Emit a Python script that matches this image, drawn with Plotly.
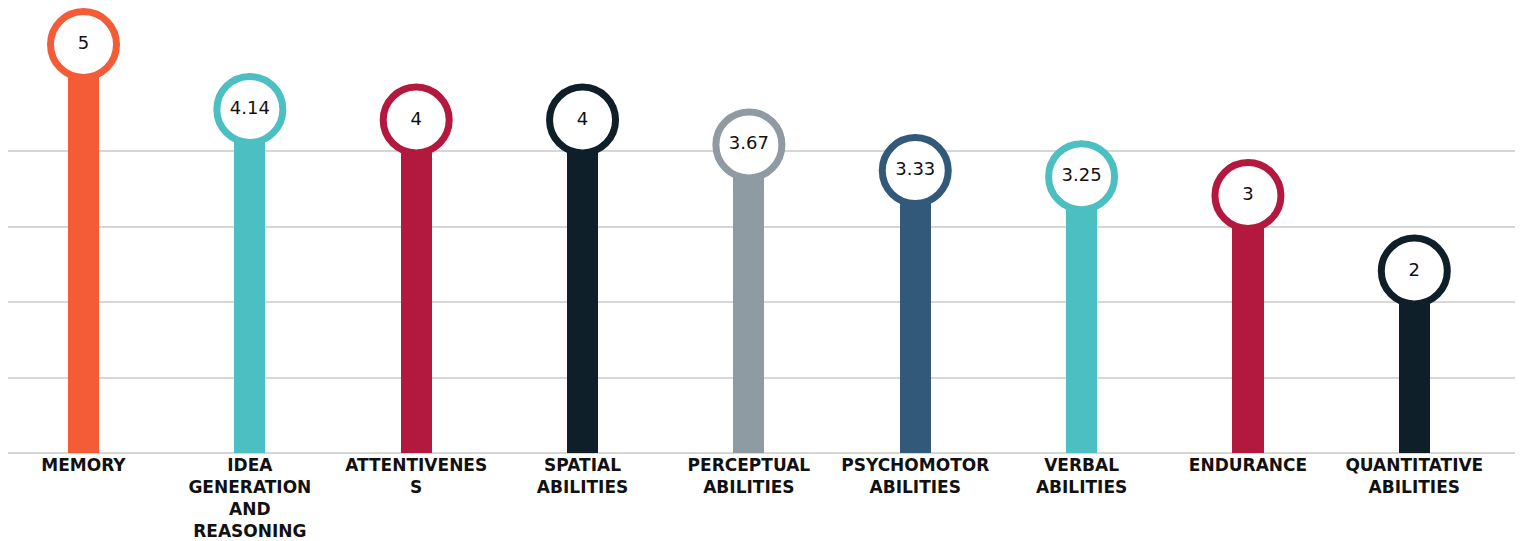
import plotly.graph_objects as go

categories = ["MEMORY", "IDEA<br>GENERATION<br>AND<br>REASONING", "ATTENTIVENES<br>S",
              "SPATIAL<br>ABILITIES", "PERCEPTUAL<br>ABILITIES", "PSYCHOMOTOR<br>ABILITIES",
              "VERBAL<br>ABILITIES", "ENDURANCE", "QUANTITATIVE<br>ABILITIES"]
values = [5, 4.14, 4, 4, 3.67, 3.33, 3.25, 3, 2]
value_labels = ["5", "4.14", "4", "4", "3.67", "3.33", "3.25", "3", "2"]
colors = ["#F35C37", "#4BBFC1", "#B3183F", "#0F1F2A", "#8E9BA2", "#33597A",
          "#4BBFC1", "#B3183F", "#0F1F2A"]

# figure geometry (page body adds an 8px margin)
W, H = 1515, 533
m_l, m_r, m_t, m_b = 0, 3, 0, 88
px_per_unit = 75.5
y_max = (H - m_t - m_b) / px_per_unit
circle_offset = 31 / px_per_unit  # circle sits above the bar end

x_idx = list(range(len(categories)))

fig = go.Figure()
fig.add_trace(go.Bar(
    x=x_idx, y=values, width=0.187,
    marker=dict(color=colors, line=dict(width=0)),
    hoverinfo="skip", showlegend=False,
))
fig.add_trace(go.Scatter(
    x=x_idx, y=[v + circle_offset for v in values],
    mode="markers+text",
    text=value_labels, textposition="middle center",
    textfont=dict(family="DejaVu Sans", size=18, color="#111111"),
    marker=dict(size=66, color="white", line=dict(color=colors, width=7)),
    cliponaxis=False, showlegend=False,
))

spacing = 166.35
plot_w = W - m_l - m_r
left_px = 83.5 - 8 - m_l
x0 = -left_px / spacing
x1 = x0 + plot_w / spacing

fig.update_layout(
    width=W, height=H,
    margin=dict(l=m_l, r=m_r, t=m_t, b=m_b),
    paper_bgcolor="white", plot_bgcolor="white",
    bargap=0,
    xaxis=dict(
        range=[x0, x1], automargin=False,
        tickmode="array", tickvals=x_idx, ticktext=categories,
        tickangle=0, showgrid=False, zeroline=False, showline=False,
        ticks="", ticklen=0,
        tickfont=dict(family="DejaVu Sans", size=17, color="#111111", weight="bold"),
    ),
    yaxis=dict(
        range=[0, y_max], automargin=False,
        tickmode="array", tickvals=[0, 1, 2, 3, 4],
        showticklabels=False, showgrid=True, gridcolor="#D6D6D6", gridwidth=1.5,
        zeroline=True, zerolinecolor="#D6D6D6", zerolinewidth=1.5,
        showline=False,
    ),
)

fig.write_html("out.html")
